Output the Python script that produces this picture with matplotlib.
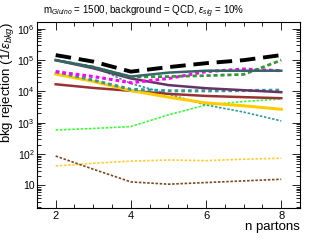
import matplotlib
matplotlib.use('Agg')
import matplotlib.pyplot as plt
from matplotlib.ticker import MultipleLocator, LogLocator, NullFormatter

plt.rcParams['font.family'] = ['Liberation Sans', 'DejaVu Sans']
plt.rcParams['mathtext.fontset'] = 'custom'
plt.rcParams['mathtext.rm'] = 'Liberation Sans'
plt.rcParams['mathtext.it'] = 'Liberation Sans:italic'

npartons = [2, 3, 4, 5, 6, 7, 8]

# rejection curves
black_dash = [1.45e5, 9.0e4, 4.3e4, 6.0e4, 8.0e4, 1.0e5, 1.45e5]
teal_solid = [1.0e5, 6.0e4, 3.0e4, 4.0e4, 4.6e4, 4.6e4, 4.6e4]
green_dash = [1.0e5, 6.0e4, 2.9e4, 3.0e4, 3.2e4, 3.5e4, 1.0e5]
purple_solid = [1.0e5, 5.5e4, 2.6e4, 1.6e4, 1.27e4, 1.1e4, 9.5e3]
magenta_dot = [4.3e4, 3.0e4, 1.9e4, 2.6e4, 4.3e4, 5.2e4, 4.6e4]
cyan_dash = [4.3e4, 2.3e4, 1.17e4, 1.05e4, 1.05e4, 1.07e4, 1.1e4]
gold_solid = [3.6e4, 2.1e4, 1.07e4, 6.6e3, 4.3e3, 3.5e3, 2.7e3]
red_solid = [1.7e4, 1.3e4, 1.05e4, 8.4e3, 7.2e3, 6.6e3, 6.1e3]
teal_dot = [1.0e5, 6.3e4, 1.8e4, 8.3e3, 3.7e3, 2.2e3, 1.15e3]
lime_dot = [590, 660, 760, 1.8e3, 3.7e3, 4.8e3, 5.8e3]
yellow_dot = [42, 51, 60, 65, 62, 69, 74]
brown_dot = [87, 33, 13, 11, 12.4, 14, 15.8]

fig = plt.figure(figsize=(3.1, 2.4), dpi=100)
ax = fig.add_axes([0.119, 0.133, 0.849, 0.777])

ax.plot(npartons, lime_dot, color='#33ff33', lw=1.2, ls=(0, (1.5, 1)))
ax.plot(npartons, yellow_dot, color='#ffcc33', lw=1.2, ls=(0, (1.5, 1)))
ax.plot(npartons, brown_dot, color='#7a4a1e', lw=1.2, ls=(0, (1.5, 1)))
ax.plot(npartons, teal_dot, color='#339999', lw=1.2, ls=(0, (1.5, 1)))
ax.plot(npartons, red_solid, color='#993333', lw=1.8)
ax.plot(npartons, gold_solid, color='#ffcc00', lw=2.2)
ax.plot(npartons, cyan_dash, color='#339999', lw=2.2, ls=(0, (1.2, 1)))
ax.plot(npartons, purple_solid, color='#663366', lw=1.8)
ax.plot(npartons, magenta_dot, color='#ff00ff', lw=2.2, ls=(0, (1.2, 1)))
ax.plot(npartons, green_dash, color='#339933', lw=2.0, ls=(0, (1.5, 1)))
ax.plot(npartons, teal_solid, color='#336666', lw=1.8)
ax.plot(npartons, black_dash, color='black', lw=2.8, ls=(0, (4, 2)))

ax.set_yscale('log')
ax.set_xlim(1.5, 8.5)
ax.set_ylim(1.9, 1.7e6)

ax.xaxis.set_major_locator(MultipleLocator(2))
ax.xaxis.set_minor_locator(MultipleLocator(0.5))
ax.set_yticks([10, 1e2, 1e3, 1e4, 1e5, 1e6])
ax.set_yticklabels(['10', '$10^{2}$', '$10^{3}$', '$10^{4}$', '$10^{5}$', '$10^{6}$'])
ax.yaxis.set_minor_locator(LogLocator(base=10, subs=range(2, 10), numticks=20))
ax.yaxis.set_minor_formatter(NullFormatter())
ax.tick_params(which='both', direction='in', top=True, right=True, labelsize=8, pad=2)
ax.tick_params(axis='y', labelsize=7.5, pad=1.5)
ax.tick_params(which='major', length=6, width=0.6)
ax.tick_params(which='minor', length=3, width=0.6)
for s in ax.spines.values():
    s.set_linewidth(0.8)

ax.set_xlabel('n partons', fontsize=9.5, loc='right', labelpad=0)
ax.set_ylabel(r'bkg rejection (1/$\epsilon_{bkg}$)', fontsize=9.5, loc='top')
ax.yaxis.set_label_coords(-0.08, 1.0)

fig.text(0.139, 0.95, r'm$_{Gluino}$ = 1500, background = QCD, $\epsilon_{sig}$ = 10%',
         fontsize=7, ha='left', va='center')

fig.savefig('out.png', dpi=100)
